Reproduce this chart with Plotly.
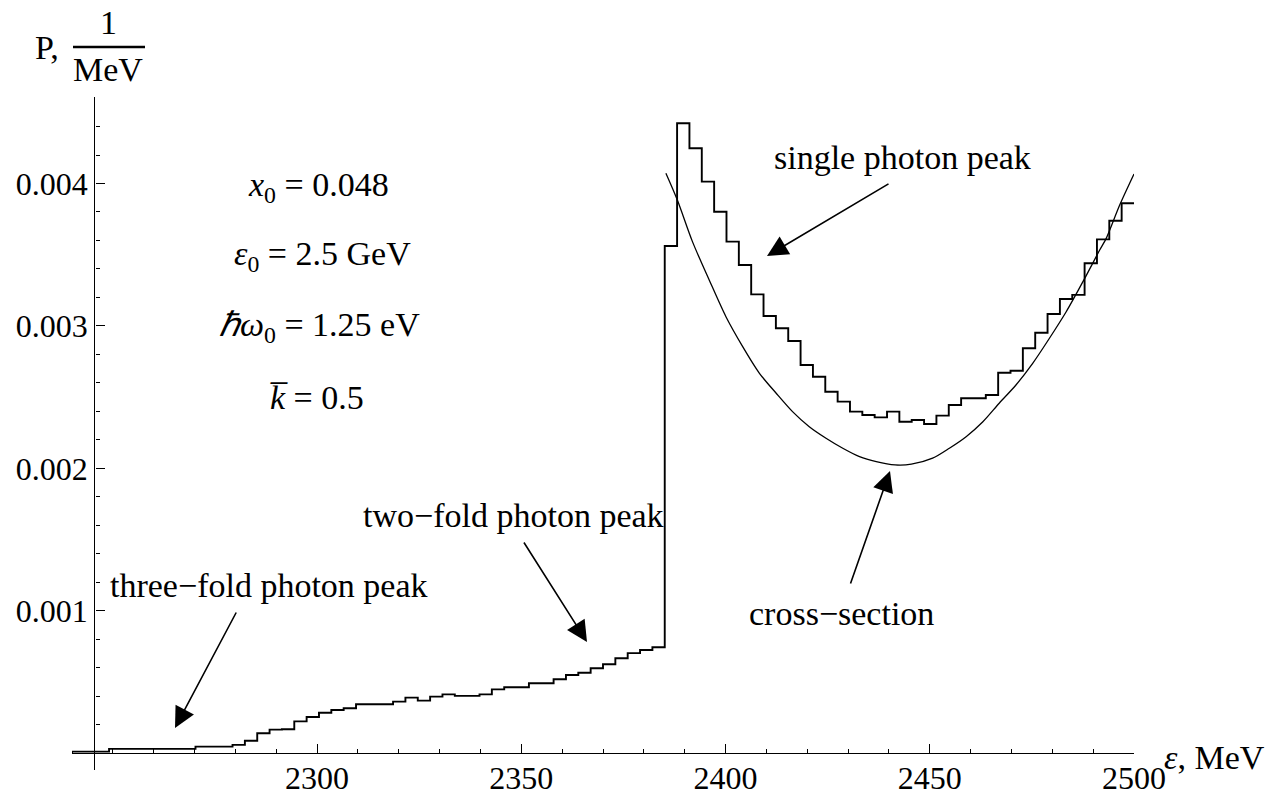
import numpy as np
import plotly.graph_objects as go

# ---------------- data ----------------
bin_range = [2240, 2500]          # MeV, histogram extent
n_bins = 86
# histogram values, P in 1/MeV (units of 1e-3)
hist_values_e3 = [
    0.013, 0.013, 0.013, 0.032, 0.032, 0.032, 0.032, 0.032, 0.032, 0.032,
    0.048, 0.048, 0.048, 0.060, 0.089, 0.142, 0.167, 0.170, 0.225, 0.256,
    0.286, 0.305, 0.317, 0.345, 0.345, 0.345, 0.364, 0.392, 0.371, 0.399,
    0.415, 0.404, 0.404, 0.415, 0.450, 0.465, 0.465, 0.493, 0.493, 0.521,
    0.551, 0.567, 0.598, 0.626, 0.668, 0.704, 0.726, 0.745,
    3.561, 4.423, 4.247, 4.013, 3.802, 3.592, 3.428, 3.222, 3.070, 2.984,
    2.895, 2.726, 2.644, 2.539, 2.469, 2.399, 2.375, 2.359, 2.399, 2.328,
    2.340, 2.312, 2.371, 2.446, 2.493, 2.493, 2.516, 2.672, 2.686, 2.844,
    2.953, 3.084, 3.189, 3.218, 3.440, 3.608, 3.739, 3.861,
]
# cross-section curve, points
cs_energy = [2385.4, 2388.2, 2391.9, 2396.0, 2400.1, 2404.2, 2408.3, 2412.4,
             2416.4, 2420.5, 2424.6, 2428.7, 2432.8, 2436.9, 2441.5, 2445.5,
             2450.7, 2454.8, 2458.9, 2463.0, 2467.0, 2471.1, 2475.2, 2479.3,
             2483.4, 2487.5, 2491.6, 2493.2, 2496.5, 2500.0]
cs_values_e3 = [4.072, 3.884, 3.592, 3.323, 3.065, 2.855, 2.668, 2.528,
                2.399, 2.293, 2.212, 2.142, 2.083, 2.048, 2.025, 2.030,
                2.072, 2.142, 2.223, 2.328, 2.458, 2.586, 2.738, 2.914,
                3.100, 3.311, 3.533, 3.615, 3.849, 4.067]

x_ticks = [2300, 2350, 2400, 2450, 2500]
x_tick_labels = ["2300", "2350", "2400", "2450", "2500"]
y_ticks = [0.001, 0.002, 0.003, 0.004]
y_tick_labels = ["0.001", "0.002", "0.003", "0.004"]

# ---------------- figure ----------------
edges = np.linspace(bin_range[0], bin_range[1], n_bins + 1)
hv = np.array(hist_values_e3) * 1e-3
hx = [edges[0]] + list(edges)
hy = [0.0] + list(hv) + [hv[-1]]

FONT = "Liberation Serif"
FS = 34
TFS = 32

fig = go.Figure()
fig.add_trace(go.Scatter(x=hx, y=hy, mode="lines", line=dict(color="black", width=1.9, shape="hv"),
                         hoverinfo="skip", showlegend=False))
fig.add_trace(go.Scatter(x=cs_energy, y=np.array(cs_values_e3) * 1e-3, mode="lines",
                         line=dict(color="black", width=1.3, shape="spline", smoothing=0.8),
                         hoverinfo="skip", showlegend=False))

W, H = 1280, 798
L, R, T, B = 72, 146, 97, 28
y_range = [-0.000116, 0.004607]
x_pos_of_yaxis = (2245.5 - bin_range[0]) / (bin_range[1] - bin_range[0])
y_pos_of_xaxis = (0 - y_range[0]) / (y_range[1] - y_range[0])

fig.update_layout(
    width=W, height=H, autosize=False,
    margin=dict(l=L, r=R, t=T, b=B, autoexpand=False),
    paper_bgcolor="white", plot_bgcolor="white",
    font=dict(family=FONT, size=FS, color="black"),
    xaxis=dict(range=bin_range, anchor="free", position=y_pos_of_xaxis, automargin=False,
               showgrid=False, zeroline=False, showline=True, linecolor="black", linewidth=1.4,
               ticks="inside", ticklen=9, tickwidth=1.4, tickcolor="black",
               tickvals=x_ticks, ticktext=x_tick_labels, ticklabelstandoff=-4,
               tickfont=dict(family=FONT, size=TFS, color="black"),
               minor=dict(dtick=10, tick0=2300, ticks="inside", ticklen=4.5, tickwidth=1.2, tickcolor="black")),
    yaxis=dict(range=y_range, anchor="free", position=x_pos_of_yaxis, automargin=False,
               showgrid=False, zeroline=False, showline=True, linecolor="black", linewidth=1.4,
               ticks="inside", ticklen=9, tickwidth=1.4, tickcolor="black",
               tickvals=y_ticks, ticktext=y_tick_labels,
               tickfont=dict(family=FONT, size=TFS, color="black"),
               minor=dict(dtick=0.0002, tick0=0, ticks="inside", ticklen=4.5, tickwidth=1.2, tickcolor="black")),
)

def px2x(px):
    return bin_range[0] + (px - L) / (W - L - R) * (bin_range[1] - bin_range[0])

def py2y(py):
    return y_range[1] - (py - T) / (H - T - B) * (y_range[1] - y_range[0])

anns = []
def text_px(txt, px, py, xanchor="center", size=FS):
    anns.append(dict(text=txt, xref="paper", yref="paper",
                     x=(px - L) / (W - L - R), y=1 - (py - T) / (H - T - B),
                     xanchor=xanchor, yanchor="middle", showarrow=False,
                     font=dict(family=FONT, size=size, color="black")))

def arrow_px(head, tail):
    anns.append(dict(text="", x=px2x(head[0]), y=py2y(head[1]), xref="x", yref="y",
                     ax=tail[0] - head[0], ay=tail[1] - head[1], axref="pixel", ayref="pixel",
                     showarrow=True, arrowhead=2, arrowsize=2.6, arrowwidth=1.6, arrowcolor="black",
                     standoff=0, startstandoff=0))

text_px("<i>x</i><sub>0</sub> = 0.048", 318, 187)
text_px("<i>ε</i><sub>0</sub> = 2.5 GeV", 322, 256)
text_px("<i>ℏω</i><sub>0</sub> = 1.25 eV", 319, 327)
text_px("<i>k̅</i> = 0.5", 317, 397)

text_px("single photon peak", 902, 157)
arrow_px((767, 256), (890, 183))
text_px("two−fold photon peak", 513, 515)
arrow_px((587, 642), (523, 541))
text_px("three−fold photon peak", 269, 585)
arrow_px((175, 728), (237, 611))
text_px("cross−section", 841, 613)
arrow_px((890, 471), (850, 585))

text_px("<i>ε</i>, MeV", 1162, 757, xanchor="left")
text_px("P,", 47, 47)
text_px("1", 108, 23)
text_px("MeV", 108, 70)

fig.update_layout(annotations=anns)
fig.add_shape(type="line", xref="paper", yref="paper",
              x0=(73 - L) / (W - L - R), x1=(145 - L) / (W - L - R),
              y0=1 - (47 - T) / (H - T - B), y1=1 - (47 - T) / (H - T - B),
              line=dict(color="black", width=2.4))

fig.write_html("out.html", config={"displayModeBar": False})
